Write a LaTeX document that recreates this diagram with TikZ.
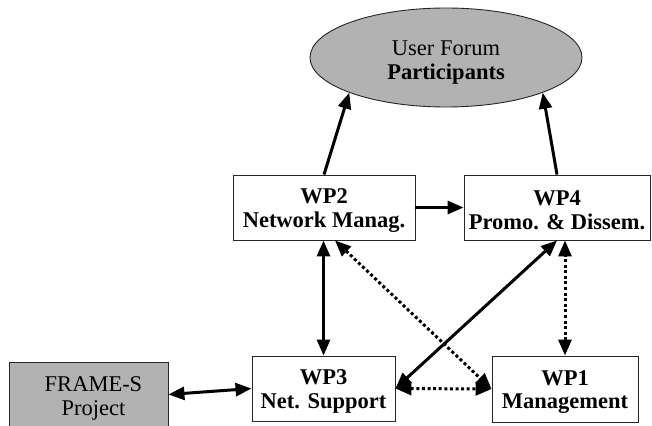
\documentclass[tikz,border=0pt]{standalone}
\usepackage{fontspec}
\setmainfont{Liberation Serif}
\usetikzlibrary{arrows.meta,shapes.geometric}
\begin{document}
\begin{tikzpicture}[x=1pt,y=-1pt,
  wpbox/.style={draw=black!85, line width=0.9pt, rectangle, inner sep=0pt},
  wptext/.style={inner sep=0pt, align=center,
    font=\fontsize{22.5}{23.5}\selectfont\bfseries},
  plaintext/.style={inner sep=0pt, align=center,
    font=\fontsize{22.5}{24}\selectfont},
  grey/.style={fill=black!30},
  link/.style={line width=3pt, draw=black},
  tip/.style={-{Triangle[length=16pt,width=13pt]}},
  tips/.style={{Triangle[length=16pt,width=13pt]}-{Triangle[length=16pt,width=13pt]}},
  dots/.style={dash pattern=on 3pt off 2.6pt}
]
\useasboundingbox (0,0) rectangle (652,425);

% user forum
\node[ellipse, draw=black!85, line width=0.9pt, grey, inner sep=0pt,
  minimum width=272pt, minimum height=99pt] (forum) at (446,57.5) {};
\node[plaintext] (forumtext) at ([yshift=-5pt]forum.center)
  {User Forum\\\textbf{Participants}};

% work packages
\node[wpbox, minimum width=182pt, minimum height=65pt] (wp2) at (324,207.5) {};
\node[wptext] (wp2text) at ([yshift=-3pt]wp2.center) {WP2\\Network Manag.};
\node[wpbox, minimum width=186pt, minimum height=65pt] (wp4) at (557,207.5) {};
\node[wptext] (wp4text) at ([yshift=-3pt]wp4.center) {WP4\\Promo. \& Dissem.};
\node[wpbox, minimum width=143pt, minimum height=65pt] (wp3) at (323.5,388.5) {};
\node[wptext] (wp3text) at ([yshift=-3pt]wp3.center) {WP3\\Net. Support};
\node[wpbox, minimum width=146pt, minimum height=66pt] (wp1) at (565,389) {};
\node[wptext] (wp1text) at ([yshift=-3pt]wp1.center) {WP1\\Management};

% external project
\node[wpbox, grey, minimum width=159pt, minimum height=65pt] (frame) at (88.5,394.5) {};
\node[plaintext] (frametext) at ([xshift=5pt,yshift=-4pt]frame.center) {FRAME-S\\Project};

% connections
\draw[link, tip] (wp2.north) -- (forum.200);
\draw[link, tip] (wp4.north) -- (forum.340);
\draw[link, tip] (wp2.east) -- (wp4.west);
\draw[link, tips] (wp3.north) -- (wp3.north |- wp2.south);
\draw[link, tips, dots] ([xshift=11pt]wp2.south) -- (wp1.west);
\draw[link, tips] (wp3.east) -- (wp4.south);
\draw[link, tips, dots] (wp1.north) -- (wp1.north |- wp4.south);
\draw[link, tips, dots] (wp3.east) -- (wp1.west);
\draw[link, tips] (frame.east) -- (wp3.west);
\end{tikzpicture}
\end{document}
